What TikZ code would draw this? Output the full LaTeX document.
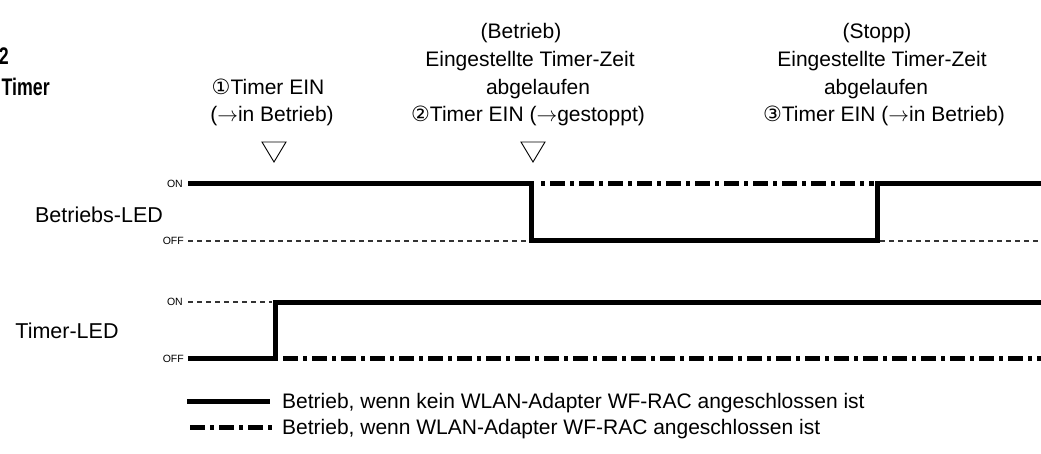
\documentclass[tikz,border=0pt]{standalone}
\usepackage{fontspec}
\setmainfont{Liberation Sans}
\newfontfamily\dejavu{DejaVu Sans}
\newfontfamily\narrowbold{Liberation Sans Bold}[FakeStretch=0.74]
\newcommand{\arr}{\ensuremath{\rightarrow}}
\begin{document}
\begin{tikzpicture}[x=1pt,y=-1pt,
  txt/.style={font=\fontsize{21}{28}\selectfont, inner sep=0pt, anchor=base},
  lbl/.style={font=\fontsize{21.5}{26}\selectfont, inner sep=0pt, anchor=base},
  head/.style={font=\fontsize{24}{28}\narrowbold, inner sep=0pt, anchor=base west},
  onoff/.style={font=\fontsize{10.5}{12}\selectfont, inner sep=0pt, anchor=base east},
  sig/.style={line width=5pt, line join=miter},
  dashdot/.style={line width=5pt, dash pattern=on 15pt off 5pt on 4pt off 5pt},
  thindash/.style={line width=1.8pt, black!80, dash pattern=on 5pt off 4pt},
  marker/.style={line width=0.9pt, line join=miter}
]
\useasboundingbox (0,0) rectangle (1041,454);

% heading at the left edge (cut off)
\node[head, anchor=base east] (h2) at (9,65) {2};
\node[head] (htimer) at (1.5,96) {Timer};

% event 1
\node[txt] (e1a) at (268,94.5) {{\dejavu ①}Timer EIN};
\node[txt] (e1b) at (272,122) {(\arr in Betrieb)};
\draw[marker] (262,142) -- (286,142) -- (274,162) -- cycle;

% event 2
\node[txt] (e2a) at (521,39) {(Betrieb)};
\node[txt] (e2b) at (530,67) {Eingestellte Timer-Zeit};
\node[txt] (e2c) at (538,94.5) {abgelaufen};
\node[txt] (e2d) at (528,122) {{\dejavu ②}Timer EIN (\arr gestoppt)};
\draw[marker] (521,142) -- (545,142) -- (533,162) -- cycle;

% event 3
\node[txt] (e3a) at (877,39) {(Stopp)};
\node[txt] (e3b) at (882,67) {Eingestellte Timer-Zeit};
\node[txt] (e3c) at (876,94.5) {abgelaufen};
\node[txt] (e3d) at (884,122) {{\dejavu ③}Timer EIN (\arr in Betrieb)};

% Betriebs-LED
\node[lbl] (blbl) at (99,222.5) {Betriebs-LED};
\node[onoff] (bon) at (183,187.5) {ON};
\node[onoff] (boff) at (184,245) {OFF};
\draw[thindash] (188,241) -- (528,241);
\draw[thindash] (880,241) -- (1041,241);
\draw[dashdot, dash phase=15pt] (536,184) -- (874,184);
\draw[sig] (188,184) -- (531,184) -- (531,241) -- (877,241) -- (877,184) -- (1041,184);

% Timer-LED
\node[lbl] (tlbl) at (67,338) {Timer-LED};
\node[onoff] (ton) at (183,305.5) {ON};
\node[onoff] (toff) at (184,362) {OFF};
\draw[thindash] (188,302) -- (272,302);
\draw[dashdot, dash phase=24pt] (278,358) -- (1041,358);
\draw[sig] (188,358) -- (275,358) -- (275,302) -- (1041,302);

% legend
\draw[sig] (187,401) -- (270,401);
\node[txt, anchor=base west] (leg1) at (282,408.5) {Betrieb, wenn kein WLAN-Adapter WF-RAC angeschlossen ist};
\draw[dashdot] (190,427) -- (272,427);
\node[txt, anchor=base west] (leg2) at (282,434.5) {Betrieb, wenn WLAN-Adapter WF-RAC angeschlossen ist};
\end{tikzpicture}
\end{document}
